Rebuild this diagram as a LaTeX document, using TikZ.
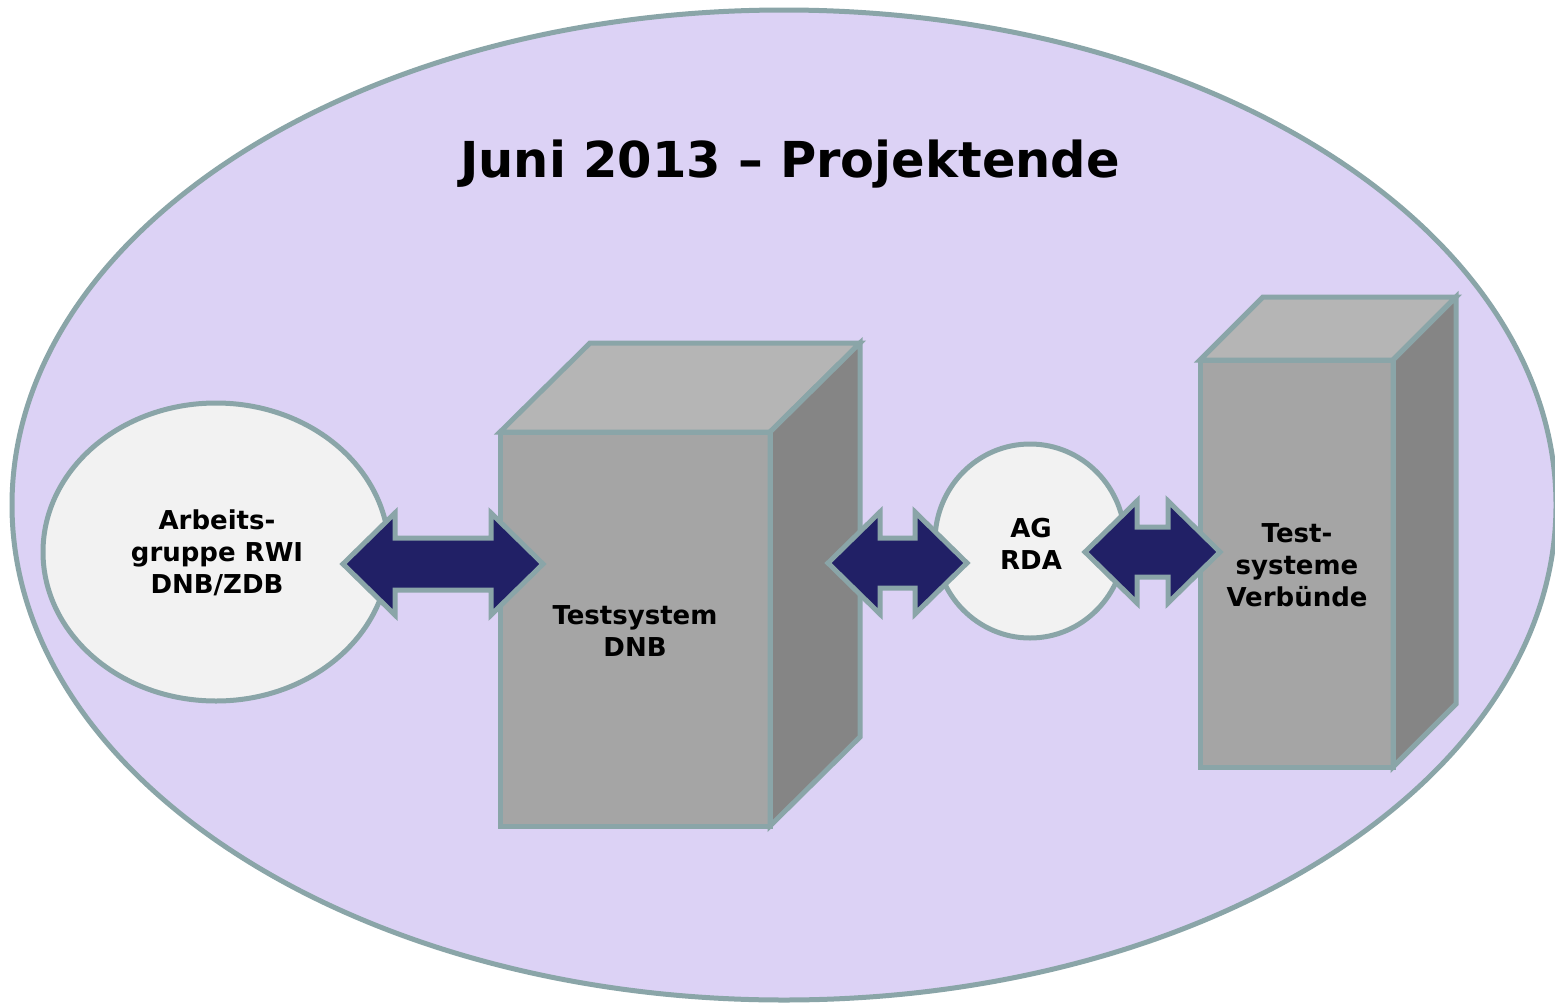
\documentclass[tikz,border=0pt]{standalone}
\usepackage{fontspec}
\setmainfont{DejaVu Sans}
\definecolor{edge}{RGB}{138,165,168}
\definecolor{lav}{RGB}{220,210,245}
\definecolor{navy}{RGB}{33,32,102}
\definecolor{front}{RGB}{165,165,165}
\definecolor{topf}{RGB}{181,181,181}
\definecolor{sidef}{RGB}{133,133,133}
\definecolor{light}{RGB}{242,242,242}
\tikzset{
  outline/.style={draw=edge, line width=5pt},
  lbl/.style={font=\bfseries\fontsize{26}{32}\selectfont, align=center, text=black},
  arrowstyle/.style={outline, fill=navy},
}
\newcommand\dblarr[6]{%
  \draw[arrowstyle] (#1,#3) -- (#1+#6,#3-#4) -- (#1+#6,#3-#5) -- (#2-#6,#3-#5)
    -- (#2-#6,#3-#4) -- (#2,#3) -- (#2-#6,#3+#4) -- (#2-#6,#3+#5)
    -- (#1+#6,#3+#5) -- (#1+#6,#3+#4) -- cycle;}
\newcommand\cuboid[7]{% x1 y1 x2 y2 dx dy name
  \fill[front] (#1,#2) rectangle (#3,#4);
  \draw[outline, fill=topf] (#1,#2) -- (#1+#5,#2-#6) -- (#3+#5,#2-#6) -- (#3,#2) -- cycle;
  \draw[outline, fill=sidef] (#3,#2) -- (#3+#5,#2-#6) -- (#3+#5,#4-#6) -- (#3,#4) -- cycle;
  \draw[outline] (#1,#2) rectangle (#3,#4);
  \coordinate (#7) at ({(#1+#3)/2},{(#2+#4)/2});}
\begin{document}
\begin{tikzpicture}[x=1pt,y=-1pt]
\useasboundingbox (0,0) rectangle (1555,1004);
\fill[white] (0,0) rectangle (1555,1004);
% outer ellipse
\draw[outline, fill=lav] (784,505) ellipse [x radius=772, y radius=495];
\node[font=\bfseries\fontsize{49.5}{60}\selectfont] (title) at (790,164) {Juni 2013 -- Projektende};
% left ellipse
\draw[outline, fill=light] (216,552) ellipse [x radius=173, y radius=149];
\node[lbl] (rwi) at (217,553) {Arbeits-\\gruppe RWI\\DNB/ZDB};
% boxes
\cuboid{500}{432}{770}{826}{90}{89}{dnbc}
\node[lbl] (dnb) at (635,631) {Testsystem\\DNB};
\cuboid{1200}{360}{1393}{767}{63}{63}{verbc}
\node[lbl] (verb) at (1297,565) {Test-\\systeme\\Verbünde};
% AG RDA circle
\draw[outline, fill=light] (1030,541) ellipse [x radius=95, y radius=97];
\node[lbl] (rda) at (1031,544) {AG\\RDA};
% arrows
\dblarr{343}{543}{564}{51}{26}{52}
\dblarr{828}{967}{563}{51}{25}{52}
\dblarr{1085}{1220}{552}{51}{25}{52}
\end{tikzpicture}
\end{document}
